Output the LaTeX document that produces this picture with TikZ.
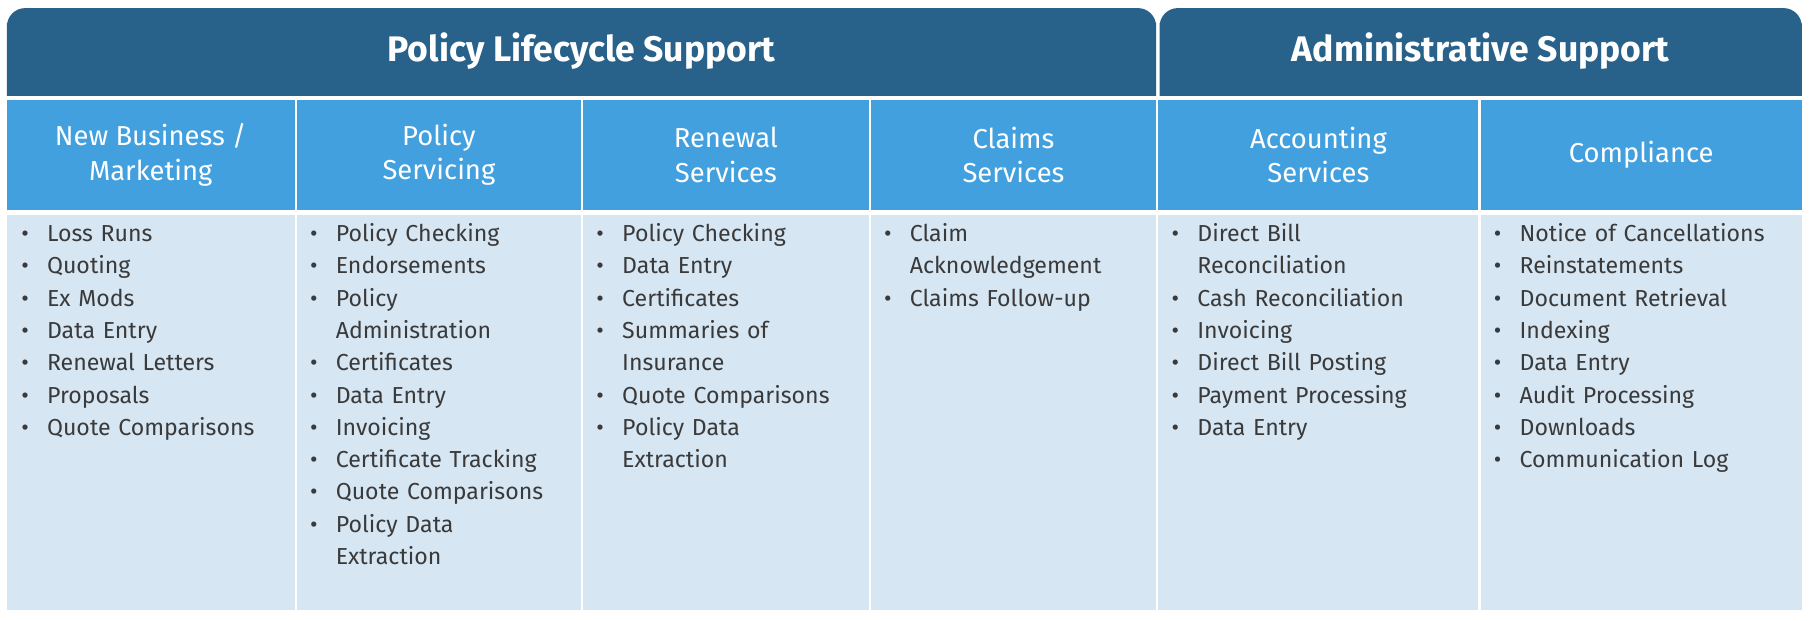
\documentclass[tikz,border=0pt]{standalone}
\usepackage{fontspec}
\setmainfont{Fira Sans}
\usepackage{enumitem}
\usetikzlibrary{positioning}
\definecolor{topblue}{HTML}{28618A}
\definecolor{midblue}{HTML}{43A0DF}
\definecolor{paleblue}{HTML}{D6E6F3}
\definecolor{itemgray}{HTML}{3A3A3A}
\newcommand{\itemsof}[1]{\begin{itemize}[leftmargin=19pt,labelsep=9pt,nosep,label={\textbullet}]#1\end{itemize}}

\begin{document}
\begin{tikzpicture}[x=0.02cm,y=-0.02cm,
	bighead/.style={text=white,font=\fontsize{17.5}{20}\selectfont\bfseries},
	subhead/.style={text=white,align=center,font=\fontsize{13.5}{17}\selectfont},
	itemlist/.style={anchor=north west,inner sep=0pt,text=itemgray,font=\fontsize{11.4}{15.9}\selectfont}]
	\useasboundingbox (0,0) rectangle (1568,537);
	\fill[white] (0,0) rectangle (1568,537);
	
	% top headers
	\fill[topblue] (6,83) -- (6,20) [rounded corners=9] -- (6,7) -- (1001,7) [sharp corners] -- (1001,20) -- (1001,83) -- cycle;
	\fill[topblue] (1004,83) -- (1004,20) [rounded corners=9] -- (1004,7) -- (1560,7) [sharp corners] -- (1560,20) -- (1560,83) -- cycle;
	\node[bighead] (lifecycle) at (503.5,44) {Policy Lifecycle Support};
	\node[bighead] (admin) at (1282,44) {Administrative Support};
	
	
	
	% columns
	\foreach \l/\r in {6/255,257/503,505/752,754/1001,1003/1280,1282/1560}{
		\fill[midblue] (\l,87) rectangle (\r,182);
		\fill[paleblue] (\l,186) rectangle (\r,528);
	}
	\node[subhead] (newbiz) at (130.5,134) {New Business /\\Marketing};
	\node[subhead] (servicing) at (380,134) {Policy\\Servicing};
	\node[subhead] (renewal) at (628.5,134) {Renewal\\Services};
	\node[subhead] (claims) at (877.5,134) {Claims\\Services};
	\node[subhead] (accounting) at (1141.5,134) {Accounting\\Services};
	\node[subhead] (compliance) at (1421,134) {Compliance};
	
	
	
	% bullet lists
	\node[itemlist,text width=4.6cm] (newbizlist) at (7,181) {\itemsof{\item Loss Runs \item Quoting \item Ex Mods \item Data Entry \item Renewal Letters \item Proposals \item Quote Comparisons}};
	\node[itemlist,text width=4.6cm] (servicinglist) at (257,181) {\itemsof{\item Policy Checking \item Endorsements \item Policy\\Administration \item Certificates \item Data Entry \item Invoicing \item Certificate Tracking \item Quote Comparisons \item Policy Data\\Extraction}};
	\node[itemlist,text width=4.6cm] (renewallist) at (505,181) {\itemsof{\item Policy Checking \item Data Entry \item Certificates \item Summaries of\\Insurance \item Quote Comparisons \item Policy Data\\Extraction}};
	\node[itemlist,text width=4.6cm] (claimslist) at (754,181) {\itemsof{\item Claim\\Acknowledgement \item Claims Follow-up}};
	\node[itemlist,text width=5.2cm] (accountinglist) at (1003,181) {\itemsof{\item Direct Bill\\Reconciliation \item Cash Reconciliation \item Invoicing \item Direct Bill Posting \item Payment Processing \item Data Entry}};
	\node[itemlist,text width=5.2cm] (compliancelist) at (1282,181) {\itemsof{\item Notice of Cancellations \item Reinstatements \item Document Retrieval \item Indexing \item Data Entry \item Audit Processing \item Downloads \item Communication Log}};
\end{tikzpicture}
\end{document}
